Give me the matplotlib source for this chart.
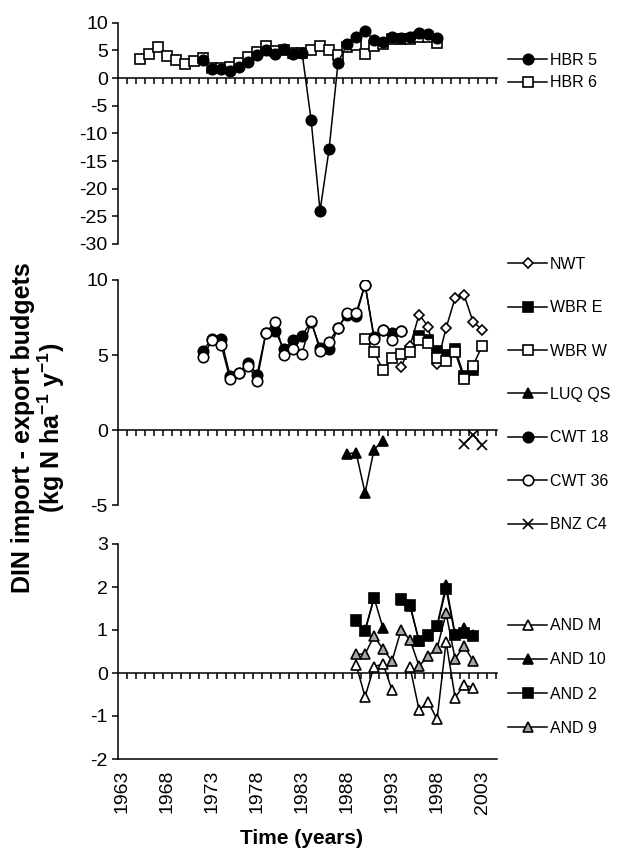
import numpy as np
import matplotlib
matplotlib.use("Agg")
import matplotlib.pyplot as plt

plt.rcParams['font.family'] = ['Liberation Sans', 'DejaVu Sans']
plt.rcParams['axes.unicode_minus'] = False
plt.rcParams['mathtext.fontset'] = 'custom'
plt.rcParams['mathtext.rm'] = 'Liberation Sans'
plt.rcParams['mathtext.bf'] = 'Liberation Sans:bold'

nan = np.nan

# ---- top panel: Hubbard Brook ----
hbr5_years = list(range(1972, 1999))
hbr5 = [3.3, 1.7, 1.7, 1.3, 2.0, 2.9, 4.1, 5.1, 4.4, 5.3, 4.3, 4.6, -7.5, -24.0,
        -12.9, 2.8, 6.1, 7.4, 8.5, 6.9, 6.6, 7.5, 7.3, 7.5, 8.2, 7.9, 7.3]
hbr6_years = list(range(1965, 1999))
hbr6 = [3.4, 4.3, 5.6, 3.9, 3.3, 2.5, 3.0, 3.7, 1.8, 1.8, 2.0, 2.7, 3.8, 4.7,
        5.7, 4.9, 5.0, 4.5, 4.6, 5.1, 5.7, 5.1, 4.2, 5.6, 5.9, 4.4, 5.7, 6.2,
        7.1, 7.0, 7.0, 7.4, 7.4, 6.3]

# ---- middle panel ----
nwt_years = list(range(1994, 2004))
nwt = [4.2, 5.6, 7.7, 6.9, 4.4, 6.8, 8.8, 9.0, 7.2, 6.7]
wbre_years = list(range(1996, 2003))
wbre = [6.3, 6.0, 5.3, 5.0, 5.4, 3.6, 4.0]
wbrw_years = list(range(1990, 2004))
wbrw = [6.1, 5.2, 4.0, 4.8, 5.1, 5.2, 6.0, 5.8, 4.8, 4.6, 5.2, 3.4, 4.3, 5.6]
luq_years = list(range(1988, 1993))
luq = [-1.6, -1.5, -4.2, -1.3, -0.7]
cwt_years = list(range(1972, 1995))
cwt18 = [5.3, 6.1, 6.1, 3.6, 3.8, 4.5, 3.7, 6.5, 6.6, 5.4, 6.0, 6.3, 7.2, 5.5,
         5.4, 6.8, 7.7, 7.6, 9.7, 6.2, 6.7, 6.5, 6.6]
cwt36 = [4.9, 6.0, 5.7, 3.4, 3.8, 4.3, 3.3, 6.5, 7.2, 5.0, 5.4, 5.1, 7.3, 5.3,
         5.9, 6.8, 7.8, 7.8, 9.7, 6.1, 6.7, 6.0, 6.6]
bnz_years = list(range(2001, 2004))
bnz = [-0.9, -0.3, -1.0]

# ---- bottom panel: Andrews ----
and_years = list(range(1989, 2003))
and_m = [0.19, -0.55, 0.15, 0.21, -0.40, nan, 0.13, -0.86, -0.67, -1.08, 0.73,
         -0.57, -0.28, -0.34]
and_10 = [1.2, 1.0, 1.75, 1.04, nan, 1.7, 1.55, 0.74, 0.85, 1.1, 2.05, 0.9,
          1.04, 0.88]
and_2 = [1.23, 0.98, 1.74, nan, nan, 1.72, 1.58, 0.74, 0.88, 1.09, 1.95, 0.88,
         0.92, 0.85]
and_9 = [0.44, 0.44, 0.86, 0.55, 0.28, 1.0, 0.77, 0.16, 0.40, 0.57, 1.39, 0.33,
         0.63, 0.28]

label_years = list(range(1963, 2004, 5))
half_years = np.arange(1963.5, 2005, 1.0)

fig = plt.figure(figsize=(6.33, 8.48), dpi=100)
W, H = 633.0, 848.0
left = 117.5 / W
width = 379.0 / W

def make_ax(top_px, bot_px):
    return fig.add_axes([left, 1 - bot_px / H, width, (bot_px - top_px) / H])

ax1 = make_ax(22.7, 244)
ax2 = make_ax(280, 505)
ax3 = make_ax(544, 759)

lw = 1.1
ms = 7.5
mew = 1.2

def style(ax, ylo, yhi, step):
    ax.set_xlim(1962.5, 2004.6)
    ax.set_ylim(ylo, yhi)
    ax.set_yticks(np.arange(ylo, yhi + 0.01, step))
    ax.spines['top'].set_visible(False)
    ax.spines['right'].set_visible(False)
    ax.spines['bottom'].set_position(('data', 0))
    ax.spines['left'].set_linewidth(1.1)
    ax.spines['bottom'].set_linewidth(1.1)
    ax.set_xticks(half_years)
    ax.tick_params(axis='x', direction='out', length=4.5, width=1.1,
                   labelbottom=False)
    ax.tick_params(axis='y', direction='out', length=4, width=1.1,
                   labelsize=14, pad=3)
    ax.patch.set_visible(False)

style(ax1, -30, 10, 5)
style(ax2, -5, 10, 5)
style(ax3, -2, 3, 1)

leg_kw = dict(loc='center left', bbox_transform=fig.transFigure, frameon=False,
              fontsize=11.5, handlelength=2.45, handletextpad=0.15,
              borderpad=0, borderaxespad=0)

# top panel
h6, = ax1.plot(hbr6_years, hbr6, color='black', lw=lw, marker='s', ms=ms,
               mfc='white', mec='black', mew=mew, zorder=3, label='HBR 6')
h5, = ax1.plot(hbr5_years, hbr5, color='black', lw=lw, marker='o', ms=ms,
               mfc='black', mec='black', mew=mew, zorder=4, label='HBR 5')
ax1.legend(handles=[h5, h6], bbox_to_anchor=(508 / W, 1 - 71.5 / H),
           labelspacing=0.45, **leg_kw)

# middle panel
mid = [
    (nwt_years, nwt, 'D', 5.6, 'white', 'NWT'),
    (wbre_years, wbre, 's', ms, 'black', 'WBR E'),
    (wbrw_years, wbrw, 's', ms, 'white', 'WBR W'),
    (luq_years, luq, '^', ms, 'black', 'LUQ QS'),
    (cwt_years, cwt18, 'o', ms, 'black', 'CWT 18'),
    (cwt_years, cwt36, 'o', ms, 'white', 'CWT 36'),
    (bnz_years, bnz, 'x', ms, 'black', 'BNZ C4'),
]
mid_handles = []
for i, (xs, ys, mk, size, fc, name) in enumerate(mid):
    h, = ax2.plot(xs, ys, color='black', lw=lw, marker=mk, ms=size, mfc=fc,
                  mec='black', mew=mew, zorder=3 + i, label=name)
    mid_handles.append(h)
ax2.legend(handles=mid_handles, bbox_to_anchor=(508 / W, 1 - 394.5 / H),
           labelspacing=1.78, **leg_kw)

# bottom panel
bot = [
    (and_m, '^', 'white', 'AND M'),
    (and_10, '^', 'black', 'AND 10'),
    (and_2, 's', 'black', 'AND 2'),
    (and_9, '^', '#a6a6a6', 'AND 9'),
]
bot_handles = []
for i, (ys, mk, fc, name) in enumerate(bot):
    h, = ax3.plot(and_years, ys, color='black', lw=lw, marker=mk, ms=ms,
                  mfc=fc, mec='black', mew=mew, zorder=3 + i, label=name)
    bot_handles.append(h)
ax3.legend(handles=bot_handles, bbox_to_anchor=(508 / W, 1 - 677 / H),
           labelspacing=1.2, **leg_kw)

sec = ax3.secondary_xaxis(0.0)
sec.set_xticks(label_years)
sec.set_xticklabels([str(y) for y in label_years], rotation=90)
sec.tick_params(axis='x', length=0, pad=8, labelsize=14)
sec.spines['bottom'].set_linewidth(1.1)

fig.text(301 / W, 1 - 838 / H, 'Time (years)', ha='center', va='center',
         fontsize=15, fontweight='bold')
fig.text(39 / W, 1 - 428 / H,
         'DIN import - export budgets\n(kg N ha$^{\\mathbf{-1}}$ y$^{\\mathbf{-1}}$)',
         rotation=90, ha='center', va='center', fontsize=18, fontweight='bold',
         multialignment='center', linespacing=1.0)

fig.savefig('out.png', dpi=100)
